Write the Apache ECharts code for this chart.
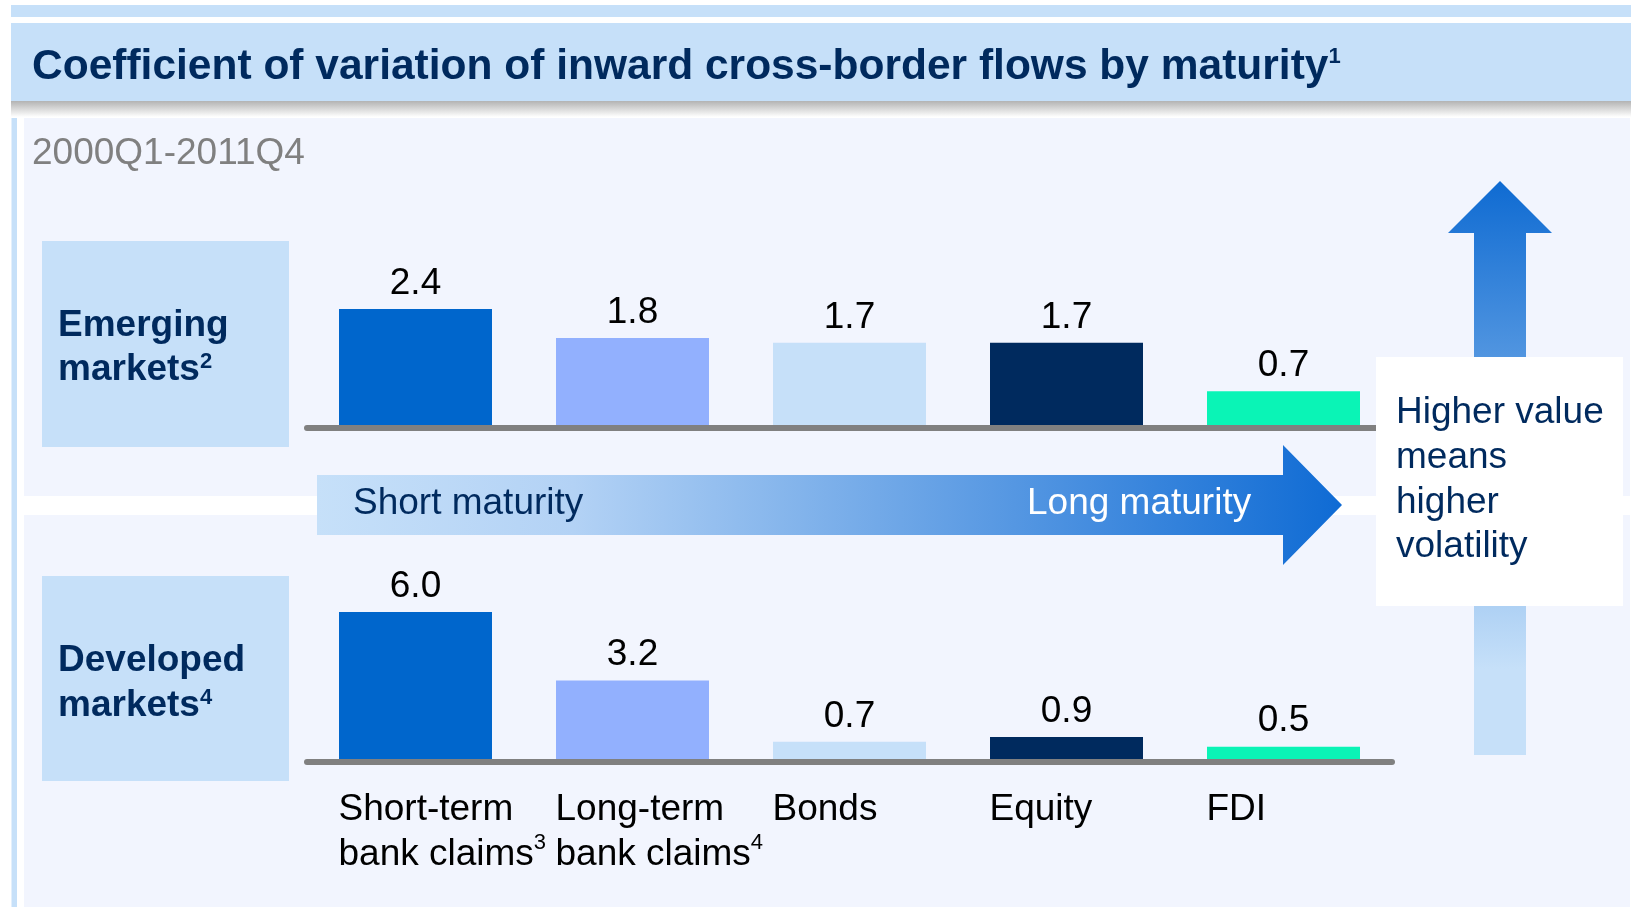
<!DOCTYPE html>
<html>
<head>
<meta charset="utf-8">
<script src="https://cdn.jsdelivr.net/npm/echarts@6/dist/echarts.min.js"></script>
<style>
  html, body { margin: 0; padding: 0; background: #fff; }
  #chart { width: 1631px; height: 907px; }
</style>
</head>
<body>
<div id="chart"></div>
<script>
// data
var categories = ['Short-term\nbank claims³', 'Long-term\nbank claims⁴', 'Bonds', 'Equity', 'FDI'];
var emerging = [2.4, 1.8, 1.7, 1.7, 0.7];
var developed = [6.0, 3.2, 0.7, 0.9, 0.5];
var barColors = ['#0066cc', '#92b0fe', '#c6e0f9', '#002a5e', '#0af4b6'];

var FONT = '"Liberation Sans", Arial, sans-serif';
var NAVY = '#002a5e';
var LIGHT = '#c6e0f9';
var SUP = { '¹': '1', '²': '2', '³': '3', '⁴': '4' };

var chart = echarts.init(document.getElementById('chart'));

// superscript chars -> small raised rich token
function sup(s) {
    return s.replace(/[¹²³⁴]/g, function (c) { return '{s|' + SUP[c] + '}'; });
}

// text placed by its baseline
function txt(x, base, s, size, color, bold, supLH) {
    return {
        type: 'text', z: 30,
        style: {
            x: x, y: base - 0.25 * size, text: sup(s),
            font: (bold ? 'bold ' : '') + size + 'px ' + FONT,
            lineHeight: size,
            fill: color, textAlign: 'left', textVerticalAlign: 'middle',
            rich: { s: { fontFamily: FONT, fontWeight: bold ? 'bold' : 'normal', fontSize: 22,
                         fill: color, verticalAlign: 'top', lineHeight: supLH || 22 } }
        }
    };
}
function box(x, y, w, h, fill, z) {
    return { type: 'rect', z: z || 0, shape: { x: x, y: y, width: w, height: h }, style: { fill: fill } };
}

function barSeries(data, idx) {
    return {
        type: 'bar', xAxisIndex: idx, yAxisIndex: idx, z: 5,
        barWidth: 153,
        data: data.map(function (v, i) {
            return { value: v, itemStyle: { color: barColors[i] } };
        }),
        label: {
            show: true, position: 'top', distance: 7,
            fontFamily: FONT, fontSize: 37, lineHeight: 37, color: '#000',
            formatter: function (p) { return p.value.toFixed(1); }
        }
    };
}

var axisLine = { show: true, onZero: false, lineStyle: { color: '#808080', width: 6, cap: 'round' } };

var option = {
    backgroundColor: '#fff',
    animation: false,
    grid: [
        { left: 307, width: 1085, top: 280, height: 145 },
        { left: 307, width: 1085, top: 612, height: 147 }
    ],
    xAxis: [
        { type: 'category', gridIndex: 0, data: categories, offset: 3, z: 4,
          axisLine: axisLine, axisTick: { show: false }, axisLabel: { show: false } },
        { type: 'category', gridIndex: 1, data: categories, offset: 3, z: 4,
          axisLine: axisLine, axisTick: { show: false },
          axisLabel: {
              interval: 0, align: 'left', verticalAlign: 'top', margin: 25,
              padding: [0, 0, 0, -77],
              fontFamily: FONT, fontSize: 37, lineHeight: 45, color: '#000',
              formatter: function (v) { return sup(v); },
              rich: { s: { fontFamily: FONT, fontSize: 22, color: '#000', verticalAlign: 'top', lineHeight: 30 } }
          } }
    ],
    yAxis: [
        { type: 'value', gridIndex: 0, min: 0, max: 3, show: false },
        { type: 'value', gridIndex: 1, min: 0, max: 6, show: false }
    ],
    series: [barSeries(emerging, 0), barSeries(developed, 1)],
    graphic: [
        box(11, 5, 1620, 12, LIGHT),
        box(11, 23, 1620, 78, LIGHT),
        {
            type: 'rect', z: 0, shape: { x: 11, y: 101, width: 1620, height: 16 },
            style: { fill: new echarts.graphic.LinearGradient(0, 0, 0, 1, [
                { offset: 0, color: '#b3b3b3' }, { offset: 1, color: '#ffffff' }]) }
        },
        box(11.5, 118, 5.5, 789, LIGHT),
        box(24, 118, 1606, 789, '#f2f5fe'),
        box(24, 496, 1606, 19, '#ffffff', 1),
        box(42, 241, 247, 206, LIGHT, 1),
        box(42, 576, 247, 205, LIGHT, 1),
        // maturity arrow
        {
            type: 'polygon', z: 2,
            shape: { points: [[317, 475], [1283, 475], [1283, 445], [1342, 505], [1283, 565], [1283, 535], [317, 535]] },
            style: { fill: new echarts.graphic.LinearGradient(0, 0, 1, 0, [
                { offset: 0, color: '#c6e0f9' }, { offset: 0.25, color: '#b3d2f5' },
                { offset: 1, color: '#0f6bd4' }]) }
        },
        // volatility arrow
        {
            type: 'polygon', z: 2,
            shape: { points: [[1474, 755], [1474, 233], [1448, 233], [1500, 181], [1552, 233], [1526, 233], [1526, 755]] },
            style: { fill: new echarts.graphic.LinearGradient(0, 0, 0, 1, [
                { offset: 0, color: '#0f6bd2' }, { offset: 0.85, color: '#c6e0f9' },
                { offset: 1, color: '#c6e0f9' }]) }
        },
        box(1376, 357, 247, 249, '#ffffff', 20),
        txt(32, 78, 'Coefficient of variation of inward cross-border flows by maturity¹', 42.5, NAVY, true, 21),
        txt(32, 163, '2000Q1-2011Q4', 37, '#808080'),
        txt(58, 335, 'Emerging', 37, NAVY, true),
        txt(58, 379, 'markets²', 37, NAVY, true),
        txt(58, 670, 'Developed', 37, NAVY, true),
        txt(58, 715, 'markets⁴', 37, NAVY, true),
        txt(353, 513, 'Short maturity', 37, NAVY),
        txt(1027, 513, 'Long maturity', 37, '#ffffff'),
        txt(1396, 422, 'Higher value', 37, NAVY),
        txt(1396, 467, 'means', 37, NAVY),
        txt(1396, 512, 'higher', 37, NAVY),
        txt(1396, 556, 'volatility', 37, NAVY)
    ]
};

chart.setOption(option);
</script>
</body>
</html>
